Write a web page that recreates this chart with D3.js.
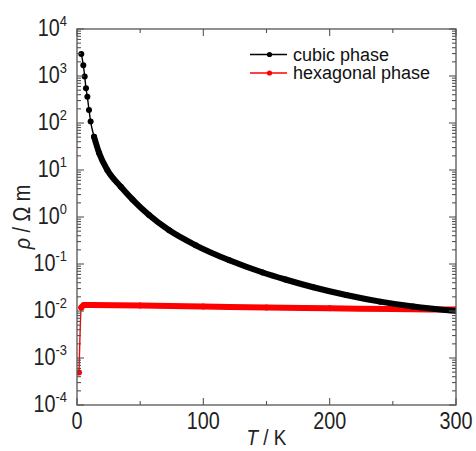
<!DOCTYPE html>
<html>
<head>
<meta charset="utf-8">
<script src="https://cdn.jsdelivr.net/npm/d3@7"></script>
<style>
  html, body { margin: 0; padding: 0; background: #fff; }
  svg { display: block; font-family: Arial, "Liberation Sans", sans-serif; }
</style>
</head>
<body>
<svg id="chart" width="476" height="451"></svg>
<script>
// Resistivity vs temperature for the two phases
const cubicT   = [3.4, 5.0, 6.1, 7.1, 8.2, 9.5, 10.8, 13.5, 17.5, 24, 34.7, 44, 57, 73, 94, 120.6, 147, 165, 187, 213, 240, 266, 300];
const cubicRho = [2950, 1700, 980, 550, 360, 190, 107, 51, 23, 10, 4.4, 2.35, 1.1, 0.52, 0.25, 0.120, 0.066, 0.0468, 0.032, 0.0219, 0.0158, 0.01245, 0.0100];

const hexT   = [1.6, 3.4, 5.5, 50, 100, 150, 200, 250, 300];
const hexRho = [0.00049, 0.0118, 0.0134, 0.0131, 0.0125, 0.0118, 0.0114, 0.0110, 0.0107];

const xTicks = [0, 100, 200, 300];
const xMinorTicks = [50, 150, 250];
const yExponents = [4, 3, 2, 1, 0, -1, -2, -3, -4];

const seriesNames = ["cubic phase", "hexagonal phase"];
const seriesColors = ["#000000", "#ff0000"];

const margin = { left: 77, top: 29, right: 456, bottom: 405 };
const svg = d3.select("#chart");
const frameColor = "#555";
const sx = 0.86; // narrow glyph width of the label font

const x = d3.scaleLinear().domain([0, 300]).range([margin.left, margin.right]);
const y = d3.scaleLog().domain([1e-4, 1e4]).range([margin.bottom, margin.top]);

const plot = svg.append("g");

// clip to the frame
svg.append("clipPath").attr("id", "clip")
  .append("rect")
  .attr("x", margin.left).attr("y", margin.top)
  .attr("width", margin.right - margin.left)
  .attr("height", margin.bottom - margin.top);

// ticks: log minor ticks on left/right, linear on top/bottom, all pointing inward
const minorY = [];
for (let e = -4; e < 4; e++) {
  for (let m = 2; m <= 9; m++) minorY.push(m * Math.pow(10, e));
}
const majorY = yExponents.map(e => Math.pow(10, e));

const ticks = svg.append("g").attr("stroke", frameColor).attr("stroke-width", 1.1);
function yTick(v, len) {
  const yy = y(v);
  ticks.append("line").attr("x1", margin.left).attr("x2", margin.left + len).attr("y1", yy).attr("y2", yy);
  ticks.append("line").attr("x1", margin.right).attr("x2", margin.right - len).attr("y1", yy).attr("y2", yy);
}
majorY.forEach(v => yTick(v, 7));
minorY.forEach(v => yTick(v, 4));
function xTick(v, len) {
  const xx = x(v);
  ticks.append("line").attr("x1", xx).attr("x2", xx).attr("y1", margin.bottom).attr("y2", margin.bottom - len);
  ticks.append("line").attr("x1", xx).attr("x2", xx).attr("y1", margin.top).attr("y2", margin.top + len);
}
xTicks.forEach(v => xTick(v, 7));
xMinorTicks.forEach(v => xTick(v, 4));

// frame
svg.append("rect")
  .attr("x", margin.left).attr("y", margin.top)
  .attr("width", margin.right - margin.left)
  .attr("height", margin.bottom - margin.top)
  .attr("fill", "none").attr("stroke", frameColor).attr("stroke-width", 1.3);

// y tick labels: 10^n
yExponents.forEach(e => {
  const g = svg.append("g")
    .attr("transform", `translate(67,${y(Math.pow(10, e)) + 7}) scale(${sx},1)`);
  const t = g.append("text").attr("text-anchor", "end").attr("fill", "#222").attr("font-size", 23);
  t.append("tspan").text("10");
  t.append("tspan").attr("font-size", 15).attr("dy", -10).text(e < 0 ? "-" + (-e) : String(e));
});

// x tick labels
xTicks.forEach(v => {
  svg.append("g")
    .attr("transform", `translate(${x(v)},429) scale(${sx},1)`)
    .append("text").attr("text-anchor", "middle").attr("fill", "#222")
    .attr("font-size", 23).text(v);
});

// axis titles
const xt = svg.append("g")
  .attr("transform", `translate(${(margin.left + margin.right) / 2},445) scale(${sx},1)`)
  .append("text").attr("text-anchor", "middle").attr("fill", "#222").attr("font-size", 22);
xt.append("tspan").attr("font-style", "italic").text("T");
xt.append("tspan").text(" / K");

const yt = svg.append("g")
  .attr("transform", `translate(30,${(margin.top + margin.bottom) / 2}) rotate(-90) scale(${sx},1)`)
  .append("text").attr("text-anchor", "middle").attr("fill", "#222").attr("font-size", 23);
yt.append("tspan").attr("font-style", "italic").text("ρ");
yt.append("tspan").text(" / Ω m");

// data
const line = d3.line().x(d => x(d[0])).y(d => y(d[1])).curve(d3.curveMonotoneX);
const cubic = cubicT.map((t, i) => [t, cubicRho[i]]);
const hex = hexT.map((t, i) => [t, hexRho[i]]);

const data = plot.append("g").attr("clip-path", "url(#clip)");

function drawSeries(pts, color, denseFrom) {
  // thin connecting line through every point
  data.append("path").datum(pts)
    .attr("fill", "none").attr("stroke", color).attr("stroke-width", 1.4)
    .attr("d", line);
  // densely sampled region appears as a solid band of markers
  data.append("path").datum(pts.slice(denseFrom))
    .attr("fill", "none").attr("stroke", color).attr("stroke-width", 6)
    .attr("stroke-linecap", "round")
    .attr("d", line);
  data.selectAll(null).data(pts).enter().append("circle")
    .attr("cx", d => x(d[0])).attr("cy", d => y(d[1]))
    .attr("r", 3).attr("fill", color);
}
drawSeries(hex, seriesColors[1], 1);
drawSeries(cubic, seriesColors[0], 7);

// legend
const legend = svg.append("g");
seriesNames.forEach((name, i) => {
  const ly = 54.5 + i * 18.5;
  legend.append("line").attr("x1", 250).attr("x2", 287).attr("y1", ly).attr("y2", ly)
    .attr("stroke", seriesColors[i]).attr("stroke-width", 1.4);
  legend.append("circle").attr("cx", 269.5).attr("cy", ly).attr("r", 2.6).attr("fill", seriesColors[i]);
  legend.append("text").attr("x", 293).attr("y", ly + 6).attr("font-size", 18)
    .attr("fill", "#111").text(name);
});
</script>
</body>
</html>
